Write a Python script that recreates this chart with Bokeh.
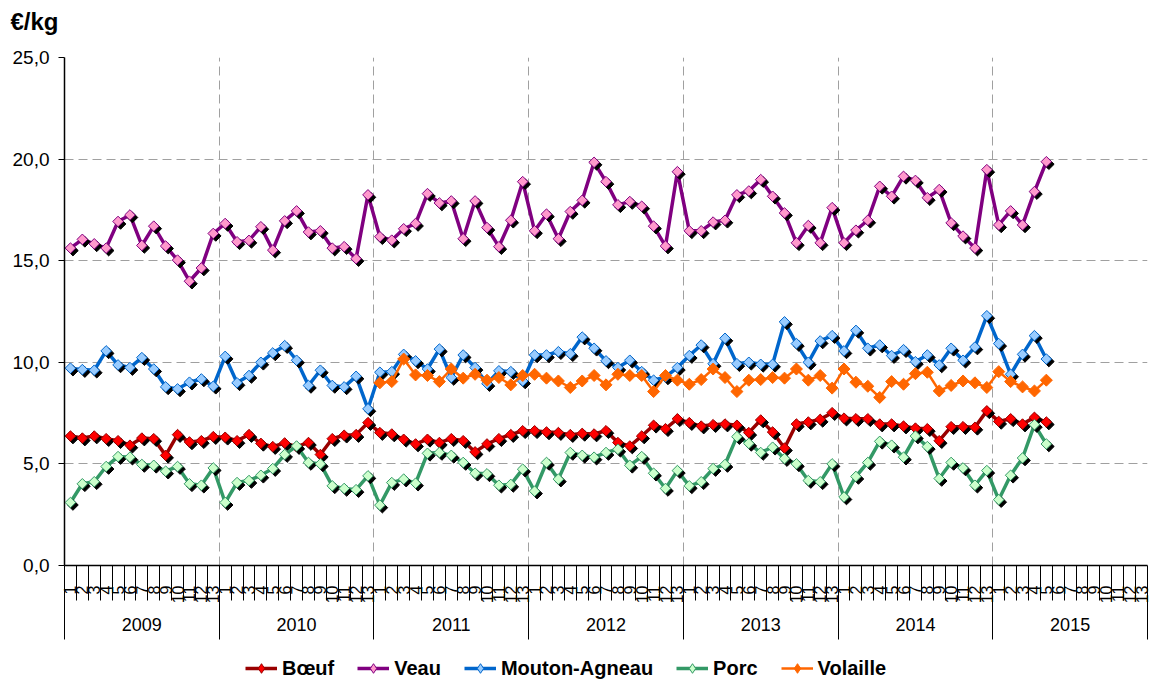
import math
from bokeh.plotting import figure
from bokeh.layouts import column
from bokeh.models import (Range1d, LinearAxis, FixedTicker, Legend, LegendItem,
                          ColumnDataSource, Grid, Title)
from bokeh.embed import file_html
from bokeh.resources import INLINE

# ---------------- data ----------------
years = ["2009", "2010", "2011", "2012", "2013", "2014", "2015"]
periods = ["1", "2", "3", "4", "5", "6", "7", "8", "9", "10", "11", "12", "13"]
y_ticks = [0, 5, 10, 15, 20, 25]
y_tick_labels = ["0,0", "5,0", "10,0", "15,0", "20,0", "25,0"]
series_names = ["Bœuf", "Veau", "Mouton-Agneau", "Porc", "Volaille"]
unit_label = "€/kg"

boeuf = [6.37, 6.27, 6.37, 6.24, 6.14, 5.92, 6.27, 6.24, 5.42, 6.44, 6.08, 6.14, 6.34,
         6.31, 6.14, 6.44, 6.01, 5.85, 6.03, 5.85, 6.05, 5.46, 6.24, 6.41, 6.44, 7.03,
         6.54, 6.47, 6.21, 5.98, 6.21, 6.05, 6.24, 6.14, 5.59, 5.98, 6.24, 6.44, 6.63,
         6.63, 6.57, 6.54, 6.44, 6.50, 6.47, 6.63, 6.05, 5.88, 6.37, 6.90, 6.73, 7.22,
         7.03, 6.86, 6.93, 6.96, 6.90, 6.54, 7.16, 6.57, 5.78, 6.96, 7.06, 7.19, 7.52,
         7.25, 7.22, 7.22, 6.96, 6.96, 6.86, 6.76, 6.73, 6.14, 6.83, 6.83, 6.80, 7.61,
         7.09, 7.22, 6.96, 7.29, 7.06]
veau = [15.62, 16.05, 15.83, 15.62, 16.93, 17.25, 15.75, 16.70, 15.72, 15.03, 13.99, 14.64, 16.34,
        16.83, 15.93, 16.00, 16.67, 15.52, 16.96, 17.45, 16.41, 16.47, 15.62, 15.69, 15.10, 18.24,
        16.18, 16.01, 16.57, 16.83, 18.30, 17.84, 17.94, 16.08, 17.94, 16.63, 15.69, 16.99, 18.89,
        16.47, 17.29, 16.08, 17.42, 17.97, 19.84, 18.89, 17.75, 17.91, 17.68, 16.70, 15.72, 19.38,
        16.47, 16.47, 16.90, 16.99, 18.24, 18.43, 18.99, 18.17, 17.35, 15.88, 16.73, 15.88, 17.61,
        15.88, 16.50, 16.99, 18.66, 18.17, 19.15, 18.95, 18.10, 18.50, 16.86, 16.21, 15.62, 19.48,
        16.76, 17.45, 16.76, 18.40, 19.87]
mouton = [9.71, 9.64, 9.61, 10.56, 9.87, 9.74, 10.23, 9.67, 8.79, 8.69, 9.02, 9.18, 8.82,
          10.29, 8.99, 9.35, 10.00, 10.46, 10.82, 10.10, 8.86, 9.61, 8.86, 8.79, 9.31, 7.71,
          9.51, 9.54, 10.39, 10.07, 9.67, 10.65, 9.25, 10.36, 9.74, 8.95, 9.58, 9.54, 9.08,
          10.36, 10.36, 10.52, 10.42, 11.24, 10.69, 10.07, 9.74, 10.10, 9.54, 9.12, 9.28, 9.74,
          10.33, 10.85, 9.93, 11.18, 9.93, 10.00, 9.90, 9.90, 11.99, 10.92, 10.00, 11.05, 11.31,
          10.56, 11.57, 10.69, 10.85, 10.33, 10.62, 10.03, 10.36, 9.87, 10.69, 10.10, 10.75, 12.29,
          10.92, 9.41, 10.39, 11.31, 10.16]
porc = [3.10, 4.02, 4.12, 4.87, 5.36, 5.33, 4.97, 4.93, 4.64, 4.87, 4.02, 3.95, 4.80,
        3.10, 4.08, 4.18, 4.44, 4.77, 5.46, 5.88, 5.07, 5.00, 3.92, 3.79, 3.73, 4.41,
        2.97, 4.08, 4.25, 4.05, 5.52, 5.56, 5.42, 5.07, 4.54, 4.51, 3.95, 3.99, 4.74,
        3.66, 5.07, 4.25, 5.56, 5.42, 5.33, 5.56, 5.72, 4.93, 5.36, 4.54, 3.79, 4.67,
        3.92, 4.12, 4.77, 4.97, 6.34, 6.01, 5.56, 5.82, 5.26, 5.00, 4.18, 4.12, 5.00,
        3.37, 4.38, 5.07, 6.11, 5.92, 5.33, 6.37, 5.85, 4.28, 5.07, 4.80, 3.95, 4.67,
        3.24, 4.44, 5.29, 6.93, 5.98]
volaille = [None] * 26 + [
        8.99, 9.05, 10.16, 9.38, 9.35, 9.05, 9.67, 9.22, 9.41, 9.12, 9.25, 8.89, 9.35,
        9.41, 9.22, 9.08, 8.76, 9.08, 9.35, 8.89, 9.41, 9.35, 9.35, 8.56, 9.35, 9.12,
        8.92, 9.15, 9.67, 9.25, 8.56, 9.12, 9.15, 9.25, 9.22, 9.67, 9.12, 9.35, 8.73,
        9.67, 9.02, 8.82, 8.27, 9.05, 8.92, 9.44, 9.51, 8.59, 8.86, 9.08, 8.99, 8.76,
        9.54, 9.05, 8.79, 8.59, 9.12]

# ---------------- styles ----------------
W = 1151
H_TOP, H_MAIN, H_LEG = 40, 607, 40
ML, MR, MT, MB = 64, 4, 17, 82
FONT = "Liberation Sans"
styles = [
    dict(line="#990000", fill="#FF0000", outline="#990000", lw=3.5, size=7.5, shadow=True),
    dict(line="#800080", fill="#FF99CC", outline="#800080", lw=3.5, size=7.5, shadow=True),
    dict(line="#0066CC", fill="#99CCFF", outline="#0066CC", lw=3.5, size=7.5, shadow=True),
    dict(line="#339966", fill="#CCFFCC", outline="#339966", lw=3.5, size=7.5, shadow=True),
    dict(line="#FF6600", fill="#FF6600", outline="#FF6600", lw=2.5, size=8.5, shadow=False),
]

n_per = len(periods)
n_cat = n_per * len(years)
xmax = 2 * n_cat
frame_w = W - ML - MR
frame_h = H_MAIN - MT - MB
ux = xmax / frame_w          # data units per px (x)
uy = (y_ticks[-1] - y_ticks[0]) / frame_h
shadow_px = 2.5


def strip(height):
    f = figure(width=W, height=height, x_range=Range1d(0, 1), y_range=Range1d(0, 1),
               output_backend="svg", toolbar_location=None,
               x_axis_location=None, y_axis_location=None,
               min_border_left=ML, min_border_right=MR, min_border_top=0, min_border_bottom=0)
    f.outline_line_color = None
    f.grid.visible = False
    return f


# top strip holding the unit title
tf = strip(H_TOP)
tf.title = Title(text=unit_label, align="left", offset=-54, standoff=11, vertical_align="bottom",
                 text_font=FONT, text_font_size="24px", text_font_style="bold", text_color="black")

# main chart
p = figure(width=W, height=H_MAIN, x_range=Range1d(0, xmax),
           y_range=Range1d(y_ticks[0], y_ticks[-1]),
           output_backend="svg", toolbar_location=None, x_axis_location=None,
           min_border_left=ML, min_border_right=MR, min_border_top=MT, min_border_bottom=MB)
p.outline_line_color = None
p.background_fill_color = "white"
p.border_fill_color = "white"

# y axis
ya = p.yaxis[0]
ya.ticker = FixedTicker(ticks=y_ticks, minor_ticks=[])
ya.major_label_overrides = dict(zip(y_ticks, y_tick_labels))
ya.major_tick_out = 6
ya.major_tick_in = 0
ya.major_tick_line_color = "black"
ya.axis_line_color = "black"
ya.axis_line_width = 1.5
ya.major_label_standoff = 9
ya.major_label_text_font = FONT
ya.major_label_text_font_size = "19px"
ya.major_label_text_color = "black"

# grids
p.xgrid.visible = False
p.ygrid.ticker = FixedTicker(ticks=y_ticks[1:])
p.ygrid.grid_line_color = "#A0A0A0"
p.ygrid.grid_line_dash = "9 5"
p.ygrid.grid_line_width = 1
year_bounds = [2 * n_per * i for i in range(len(years) + 1)]
xg = Grid(dimension=0, ticker=FixedTicker(ticks=year_bounds[1:]),
          grid_line_color="#A0A0A0", grid_line_dash="9 5", grid_line_width=1)
p.add_layout(xg)

# x axis: periods (+ small separators between periods)
centers = [2 * i + 1 for i in range(n_cat)]
bounds = [2 * i for i in range(n_cat + 1)]
ax1 = LinearAxis(ticker=FixedTicker(ticks=centers, minor_ticks=bounds),
                 major_label_overrides={c: periods[i % n_per] for i, c in enumerate(centers)},
                 major_tick_line_color=None, major_tick_out=0, major_tick_in=0,
                 minor_tick_out=35, minor_tick_in=0, minor_tick_line_color="black",
                 axis_line_color="black", axis_line_width=1.5,
                 major_label_orientation=math.pi / 2, major_label_standoff=-15,
                 major_label_text_font=FONT, major_label_text_font_size="16px",
                 major_label_text_color="black")
p.add_layout(ax1, "below")

# x axis: years (+ long separators between years)
year_centers = [n_per * (2 * i + 1) for i in range(len(years))]
ax2 = LinearAxis(ticker=FixedTicker(ticks=year_centers, minor_ticks=year_bounds),
                 major_label_overrides={c: years[i] for i, c in enumerate(year_centers)},
                 major_tick_line_color=None, major_tick_out=0, major_tick_in=0,
                 minor_tick_out=33, minor_tick_in=40, minor_tick_line_color="black",
                 axis_line_color=None, major_label_standoff=-22,
                 major_label_text_font=FONT, major_label_text_font_size="18px",
                 major_label_text_color="black")
p.add_layout(ax2, "below")

# series
for name, vals, st in zip(series_names, [boeuf, veau, mouton, porc, volaille], styles):
    xs = [centers[i] for i, v in enumerate(vals) if v is not None]
    ys = [v for v in vals if v is not None]
    src = ColumnDataSource(dict(x=xs, y=ys,
                                xs=[x + shadow_px * ux for x in xs],
                                ys=[y - shadow_px * uy for y in ys]))
    p.line("x", "y", source=src, line_color=st["line"], line_width=st["lw"])
    if st["shadow"]:
        p.scatter("xs", "ys", source=src, marker="square", angle=math.pi / 4, size=st["size"],
                  fill_color="black", line_color="black")
    p.scatter("x", "y", source=src, marker="square", angle=math.pi / 4, size=st["size"],
              fill_color=st["fill"], line_color=st["outline"], line_width=1)

# legend strip (separate figure below the chart)
lf = strip(H_LEG)
items = []
for name, st in zip(series_names, styles):
    # legend swatches only: placed outside the visible range of the strip
    r_line = lf.line(x=[-3, -2], y=[-3, -2], line_color=st["line"], line_width=st["lw"])
    r_mark = lf.scatter(x=[-3], y=[-3], marker="diamond", size=st["size"] + 4,
                        fill_color=st["fill"], line_color=st["outline"], line_width=1)
    items.append(LegendItem(label=name, renderers=[r_line, r_mark]))
legend = Legend(items=items, orientation="horizontal", location=(181, 7),
                label_text_font=FONT, label_text_font_size="20px", label_text_font_style="bold",
                label_text_color="black", glyph_width=32, glyph_height=24, label_height=22,
                label_standoff=5, spacing=23, padding=0, margin=0, border_line_color=None,
                background_fill_alpha=0)
lf.add_layout(legend)

layout = column(tf, p, lf, spacing=0)
open("out.html", "w").write(file_html(layout, INLINE))
